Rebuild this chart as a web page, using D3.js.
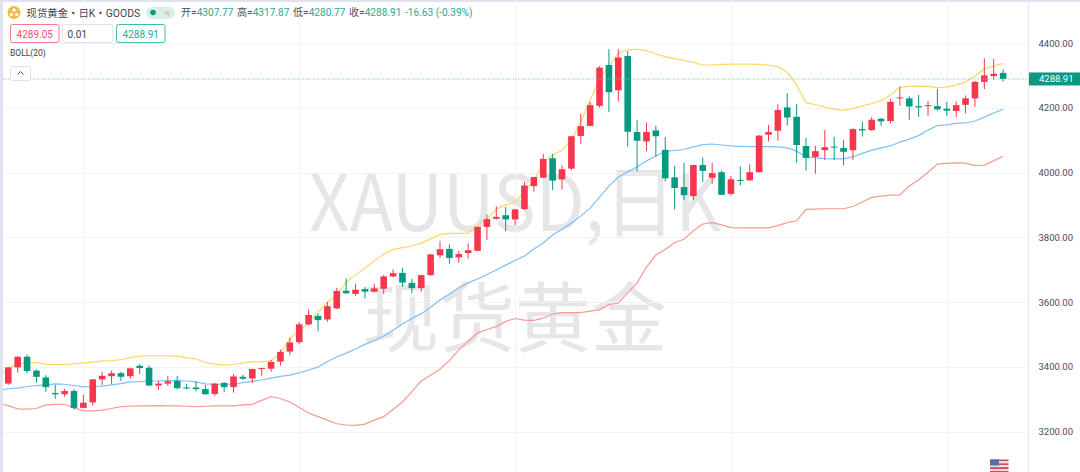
<!DOCTYPE html>
<html>
<head>
<meta charset="utf-8">
<script src="https://cdn.jsdelivr.net/npm/d3@7"></script>
<style>
  html, body { margin: 0; padding: 0; background: #fff; overflow: hidden; }
  svg { display: block; font-family: Roboto, "Noto Sans CJK SC", sans-serif; }
</style>
</head>
<body>
<svg id="chart"></svg>
<script>
//candle values, one entry per trading day
let opens = [
  3348,3398,3431,3388,3367,3319,3315,3325,3273,3290,
  3361,3371,3380,3371,3403,3397,3342,3348,3356,3336,
  3336,3331,3316,3350,3337,3369,3364,3393,3394,3416,
  3447,3476,3531,3557,3546,3580,3635,3625,3640,3632,
  3641,3679,3690,3659,3643,3683,3744,3764,3738,3751,
  3758,3832,3857,3868,3855,3887,3958,3984,4044,3979,
  4012,4113,4144,4206,4332,4254,4360,4125,4096,4130,
  4070,3985,3955,3927,4023,3984,4001,3934,3977,3976,
  4001,4117,4129,4201,4172,4082,4048,4069,4080,4076,
  4069,4134,4131,4166,4159,4229,4229,4205,4205,4205,
  4197,4190,4209,4229,4280,4298,4307.77
];
let highs = [
  3399,3433,3438,3392,3374,3344,3332,3331,3313,3362,
  3384,3388,3384,3398,3408,3404,3357,3371,3372,3348,
  3355,3344,3350,3353,3378,3375,3394,3397,3421,3453,
  3490,3538,3577,3564,3600,3644,3673,3656,3646,3656,
  3683,3701,3705,3671,3684,3748,3789,3778,3758,3781,
  3833,3870,3896,3894,3888,3970,3987,4057,4057,4022,
  4113,4181,4218,4329,4381,4381,4375,4162,4155,4144,
  4110,4020,4030,4024,4047,4030,4006,3989,4019,4025,
  4116,4147,4211,4245,4211,4107,4082,4131,4110,4100,
  4137,4158,4171,4168,4227,4265,4236,4239,4221,4258,
  4218,4220,4238,4283,4353,4351,4317.87
];
let lows = [
  3344,3382,3380,3351,3323,3301,3307,3267,3272,3280,
  3343,3347,3356,3363,3378,3341,3329,3341,3330,3330,
  3324,3314,3310,3322,3320,3359,3350,3372,3384,3404,
  3436,3470,3528,3510,3539,3578,3625,3619,3611,3630,
  3625,3676,3647,3627,3632,3681,3736,3718,3721,3734,
  3757,3792,3854,3819,3837,3884,3941,3983,3946,3947,
  4007,4089,4143,4200,4187,4219,4080,4004,4066,4049,
  3972,3886,3915,3915,3971,3964,3930,3930,3960,3974,
  4000,4096,4098,4145,4030,4005,3996,4039,4039,4022,
  4039,4111,4128,4144,4152,4206,4163,4172,4175,4191,
  4175,4170,4183,4203,4258,4286,4280.77
];
let closes = [
  3398,3431,3387,3369,3337,3315,3325,3273,3289,3361,
  3372,3380,3369,3395,3396,3342,3348,3355,3334,3334,
  3331,3315,3348,3337,3370,3363,3393,3396,3415,3446,
  3475,3531,3560,3544,3587,3634,3627,3638,3632,3642,
  3679,3689,3660,3643,3683,3747,3763,3736,3748,3760,
  3832,3856,3863,3855,3886,3960,3986,4042,3975,4010,
  4112,4143,4208,4324,4248,4355,4126,4098,4125,4112,
  3982,3952,3930,4023,4005,3998,3931,3979,3974,4001,
  4114,4125,4193,4170,4085,4045,4066,4078,4077,4064,
  4134,4130,4163,4158,4218,4232,4204,4201,4208,4195,
  4191,4208,4229,4280,4300,4305,4288.91
];
//bollinger bands, first entry is one day before the first candle (cut off by the left edge)
let bollUpper = [
  3371,3396,3408,3413,3413,3408,3407,3407,3409,3412,
  3414,3418,3419,3422,3428,3433,3434,3434,3434,3433,
  3428,3424,3413,3408,3405,3407,3412,3416,3415,3419,
  3442,3486,3513,3534,3569,3600,3619,3662,3683,3705,
  3727,3748,3762,3768,3773,3782,3795,3808,3812,3812,
  3813,3838,3856,3887,3900,3909,3940,3977,4028,4054,
  4069,4100,4156,4224,4286,4329,4368,4379,4381,4376,
  4366,4358,4352,4346,4340,4332,4332,4334,4335,4335,
  4335,4334,4332,4327,4310,4270,4215,4210,4202,4196,
  4192,4198,4205,4213,4222,4239,4263,4266,4267,4266,
  4262,4264,4270,4280,4298,4320,4329,4337
];
let bollMid = [
  3328,3332,3334,3339,3342,3344,3347,3346,3342,3338,
  3339,3340,3344,3348,3353,3354,3356,3356,3357,3357,
  3356,3353,3347,3346,3346,3346,3351,3355,3359,3365,
  3370,3374,3381,3390,3399,3416,3430,3442,3455,3469,
  3481,3495,3513,3532,3549,3564,3584,3606,3625,3643,
  3659,3671,3685,3699,3714,3728,3742,3764,3782,3807,
  3825,3844,3866,3890,3924,3958,3986,4002,4017,4036,
  4051,4065,4068,4071,4079,4086,4088,4085,4082,4081,
  4080,4080,4080,4079,4076,4066,4048,4045,4043,4042,
  4042,4048,4059,4069,4076,4082,4094,4103,4114,4131,
  4145,4147,4152,4153,4159,4171,4184,4195
];
let bollLower = [
  3286,3280,3270,3269,3271,3282,3284,3284,3273,3264,
  3264,3266,3271,3277,3278,3279,3279,3280,3279,3279,
  3278,3277,3278,3279,3279,3279,3282,3284,3296,3308,
  3302,3291,3274,3257,3246,3235,3224,3220,3219,3223,
  3235,3246,3268,3291,3323,3356,3374,3393,3419,3452,
  3479,3504,3515,3524,3540,3549,3544,3543,3550,3563,
  3567,3567,3567,3572,3576,3592,3597,3628,3659,3708,
  3745,3762,3784,3794,3820,3841,3845,3838,3830,3829,
  3829,3829,3829,3836,3845,3851,3886,3887,3888,3888,
  3888,3895,3909,3923,3927,3930,3931,3958,3977,4001,
  4026,4028,4030,4029,4021,4023,4036,4050
];
let yTicks = [4400, 4200, 4000, 3800, 3600, 3400, 3200];
//days that get a vertical grid line
let gridDays = [8, 31, 54, 77, 100];
let lastPrice = 4288.91;

//dimension for canvas
let width = 1080;
let height = 472;
let plotLeft = 3;
let plotRight = 1028.5;

let red = "#f5374e";
let green = "#089981";
let gridColor = "#f1f3f8";

let svg = d3.select("#chart").attr("width", width).attr("height", height);

let xScale = d3.scaleLinear().domain([0, 106]).range([8.3, 1003.1]);
let yScale = d3.scaleLinear().domain([3200, 4400]).range([431.5, 43]);

let drawFrame = () => {
  svg.append("rect").attr("width", width).attr("height", height).attr("fill", "#fff");
  svg.append("rect").attr("width", plotLeft).attr("height", height).attr("fill", "#e0e3ef");
  svg.append("rect").attr("width", width).attr("height", 2).attr("fill", "#e0e3ef");
  svg.append("defs").append("clipPath").attr("id", "plot")
    .append("rect")
    .attr("x", plotLeft).attr("y", 0)
    .attr("width", plotRight - plotLeft).attr("height", height);
};

let drawWatermark = () => {
  let g = svg.append("g").attr("fill", "#e6e6e9").attr("text-anchor", "middle")
    .attr("font-family", '"Noto Sans CJK SC", sans-serif');
  //the symbol text is a little taller than the font, so stretch it
  g.append("text").attr("transform", "translate(515,231) scale(1,1.1)").attr("font-size", 71).text("XAUUSD,日K");
  g.append("text").attr("x", 515).attr("y", 346).attr("font-size", 76).text("现货黄金");
};

let drawGrid = () => {
  svg.append("g").selectAll("line").data(yTicks).enter().append("line")
    .attr("x1", plotLeft).attr("x2", plotRight)
    .attr("y1", (d) => Math.round(yScale(d)) + 0.5)
    .attr("y2", (d) => Math.round(yScale(d)) + 0.5)
    .attr("stroke", gridColor);
  svg.append("g").selectAll("line").data(gridDays).enter().append("line")
    .attr("x1", (d) => Math.round(xScale(d)) + 0.5)
    .attr("x2", (d) => Math.round(xScale(d)) + 0.5)
    .attr("y1", 0).attr("y2", height)
    .attr("stroke", gridColor);
  svg.append("line")
    .attr("x1", plotRight).attr("x2", plotRight)
    .attr("y1", 0).attr("y2", height)
    .attr("stroke", "#e4e7f1");
};

let drawBands = () => {
  let line = d3.line()
    .x((d, i) => xScale(i - 1))
    .y((d) => yScale(d));
  let g = svg.append("g").attr("clip-path", "url(#plot)").attr("fill", "none").attr("stroke-width", 1.2);
  g.append("path").attr("d", line(bollUpper)).attr("stroke", "#ffd760");
  g.append("path").attr("d", line(bollMid)).attr("stroke", "#7dc1fa");
  g.append("path").attr("d", line(bollLower)).attr("stroke", "#f79a90");
};

let drawCandles = () => {
  let g = svg.append("g");
  let color = (i) => (closes[i] >= opens[i] ? red : green);
  g.selectAll(".wick").data(opens).enter().append("line")
    .attr("class", "wick")
    .attr("x1", (d, i) => xScale(i))
    .attr("x2", (d, i) => xScale(i))
    .attr("y1", (d, i) => yScale(highs[i]))
    .attr("y2", (d, i) => yScale(lows[i]))
    .attr("stroke", (d, i) => color(i));
  g.selectAll(".body").data(opens).enter().append("rect")
    .attr("class", "body")
    .attr("x", (d, i) => xScale(i) - 3.3)
    .attr("width", 6.6)
    .attr("y", (d, i) => yScale(Math.max(opens[i], closes[i])))
    .attr("height", (d, i) => Math.max(1, Math.abs(yScale(opens[i]) - yScale(closes[i]))))
    .attr("fill", (d, i) => color(i));
};

let drawAxis = () => {
  let yAxis = d3.axisRight(yScale).tickValues(yTicks).tickFormat(d3.format(".2f")).tickSize(0).tickPadding(10);
  let g = svg.append("g").attr("transform", "translate(" + plotRight + ",0)").call(yAxis);
  g.select(".domain").remove();
  g.selectAll("text").attr("font-size", 9.5).attr("font-family", "Roboto, sans-serif").attr("fill", "#4a4e59");

  //last price line and label
  svg.append("line")
    .attr("x1", plotLeft).attr("x2", plotRight)
    .attr("y1", yScale(lastPrice)).attr("y2", yScale(lastPrice))
    .attr("stroke", "#6fc4b2").attr("stroke-dasharray", "1 1.5");
  svg.append("rect")
    .attr("x", plotRight + 0.5).attr("y", yScale(lastPrice) - 6.5)
    .attr("width", width - plotRight).attr("height", 13)
    .attr("fill", green);
  svg.append("text")
    .attr("x", plotRight + 10.5).attr("y", yScale(lastPrice) + 3.5)
    .attr("font-size", 9.5).attr("fill", "#fff")
    .text(d3.format(".2f")(lastPrice));
};

let drawHeader = () => {
  let g = svg.append("g");
  //gold logo
  g.append("circle").attr("cx", 14).attr("cy", 12.5).attr("r", 6.5).attr("fill", "#f0b94a");
  [[14, 10], [11.3, 14.6], [16.7, 14.6]].forEach((p) => {
    g.append("circle").attr("cx", p[0]).attr("cy", p[1]).attr("r", 1.7).attr("fill", "#fff");
  });
  g.append("text").attr("x", 26.5).attr("y", 16.5).attr("font-size", 10.4).attr("fill", "#3d4250").text("现货黄金・日K・GOODS");

  //status pill
  g.append("rect").attr("x", 146).attr("y", 7).attr("width", 29).attr("height", 12).attr("rx", 6).attr("fill", "#d7efe9");
  g.append("circle").attr("cx", 153).attr("cy", 12.5).attr("r", 2.8).attr("fill", green);
  g.append("text").attr("x", 164.5).attr("y", 16).attr("font-size", 10).attr("fill", "#f2946a").text("≈");

  //ohlc row
  let ohlc = [
    [181, "开", "4307.77"],
    [237, "高", "4317.87"],
    [293, "低", "4280.77"],
    [349, "收", "4288.91"],
  ];
  ohlc.forEach((d) => {
    let t = g.append("text").attr("x", d[0]).attr("y", 16).attr("font-size", 10.1).attr("fill", "#4a4e59");
    t.append("tspan").text(d[1] + "=");
    t.append("tspan").attr("fill", "#26ab94").text(d[2]);
  });
  g.append("text").attr("x", 405).attr("y", 16).attr("font-size", 10.1).attr("fill", "#26ab94").text("-16.63 (-0.39%)");

  //quote boxes
  let boxes = [
    [10.5, 48.5, "#f7798a", "#f5506a", "4289.05", true],
    [62.5, 50.5, "#dfe2ea", "#3d4250", "0.01", false],
    [116.5, 48.5, "#3cbfa5", "#26ab94", "4288.91", true],
  ];
  boxes.forEach((d) => {
    g.append("rect").attr("x", d[0]).attr("y", 24.5).attr("width", d[1]).attr("height", 18)
      .attr("rx", 2).attr("fill", "#fff").attr("stroke", d[2]);
    g.append("text")
      .attr("x", d[5] ? d[0] + d[1] / 2 : d[0] + 5)
      .attr("y", 37.5).attr("font-size", 10).attr("fill", d[3])
      .attr("text-anchor", d[5] ? "middle" : "start")
      .text(d[4]);
  });

  g.append("text").attr("x", 10).attr("y", 55.5).attr("font-size", 8.5).attr("fill", "#3d4250").text("BOLL(20)");

  //collapse button
  g.append("rect").attr("x", 10.5).attr("y", 66.5).attr("width", 20).attr("height", 14)
    .attr("rx", 2).attr("fill", "#fff").attr("stroke", "#dfe2ea");
  g.append("path").attr("d", "M17.5 74.5 L20.5 71.5 L23.5 74.5").attr("fill", "none").attr("stroke", "#4a4e59");
};

let drawFlag = () => {
  let g = svg.append("g");
  d3.range(7).forEach((i) => {
    g.append("rect").attr("x", 990).attr("y", 459.5 + i * 1.9).attr("width", 18.5).attr("height", 1.9)
      .attr("fill", i % 2 === 0 ? "#d0505f" : "#f4dfe2");
  });
  g.append("rect").attr("x", 990).attr("y", 459.5).attr("width", 9).attr("height", 6).attr("fill", "#5b6aa8");
};

drawFrame();
drawWatermark();
drawGrid();
drawBands();
drawCandles();
drawAxis();
drawHeader();
drawFlag();
</script>
</body>
</html>
